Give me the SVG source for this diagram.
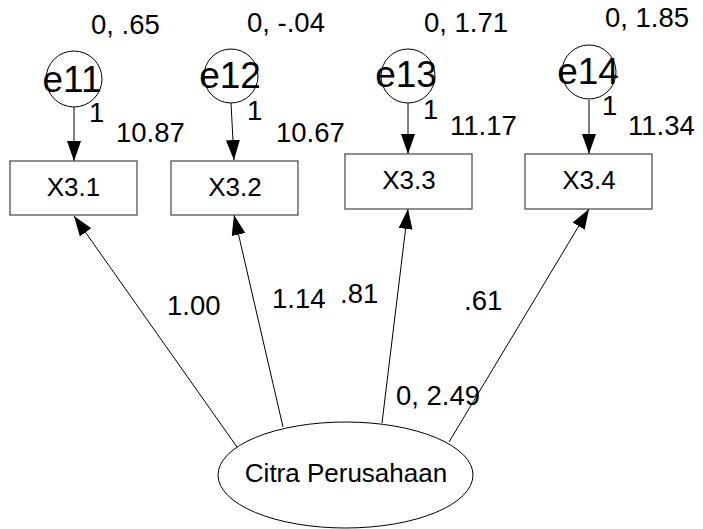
<svg xmlns="http://www.w3.org/2000/svg" width="703" height="529" viewBox="0 0 703 529">
  <style>
    text { font-family: "Liberation Sans", Arial, sans-serif; fill: #000; }
    .num { font-size: 27.5px; }
    .err { font-size: 37px; text-anchor: middle; }
    .obs { font-size: 26px; text-anchor: middle; }
    .lat { font-size: 26px; text-anchor: middle; }
    .box { fill: #fff; stroke: #444; stroke-width: 1.2; }
    .circ { fill: none; stroke: #000; stroke-width: 1; }
    .path { stroke: #000; stroke-width: 1; fill: none; marker-end: url(#arrow); }
  </style>
  <defs>
    <marker id="arrow" markerUnits="userSpaceOnUse" markerWidth="21" markerHeight="15" refX="20" refY="7" orient="auto">
      <path d="M0,0 L20,7 L0,14 z" fill="#000"/>
    </marker>
  </defs>
  <rect width="703" height="529" fill="#fff"/>

  <!-- connectors: error terms into indicators, latent factor into indicators -->
  <g id="connectors">
    <line class="path" x1="74" y1="107" x2="74" y2="161"/>
    <line class="path" x1="231" y1="103" x2="234" y2="160"/>
    <line class="path" x1="408" y1="103" x2="408" y2="154"/>
    <line class="path" x1="589" y1="100" x2="589" y2="154"/>
    <line class="path" x1="237" y1="447" x2="74" y2="216"/>
    <line class="path" x1="283" y1="427" x2="234" y2="215"/>
    <line class="path" x1="382" y1="423" x2="408" y2="209"/>
    <line class="path" x1="449" y1="442" x2="589" y2="209"/>
  </g>

  <!-- path weights, intercepts and variances -->
  <g id="labels">
    <text class="num" x="91" y="34">0, .65</text>
    <text class="num" x="247" y="32">0, -.04</text>
    <text class="num" x="424" y="32">0, 1.71</text>
    <text class="num" x="605" y="27">0, 1.85</text>
    <text class="num" x="89" y="122">1</text>
    <text class="num" x="247" y="120">1</text>
    <text class="num" x="423" y="119">1</text>
    <text class="num" x="602" y="115">1</text>
    <text class="num" x="116" y="142">10.87</text>
    <text class="num" x="276" y="142">10.67</text>
    <text class="num" x="450" y="135">11.17</text>
    <text class="num" x="628" y="135">11.34</text>
    <text class="num" x="167" y="315">1.00</text>
    <text class="num" x="272" y="308">1.14</text>
    <text class="num" x="340" y="303">.81</text>
    <text class="num" x="464" y="310">.61</text>
    <text class="num" x="396" y="405">0, 2.49</text>
  </g>

  <g id="e11">
    <circle class="circ" cx="74" cy="79" r="28"/>
    <text class="err" x="72" y="92">e11</text>
  </g>
  <g id="e12">
    <circle class="circ" cx="231" cy="76" r="27"/>
    <text class="err" x="230" y="88">e12</text>
  </g>
  <g id="e13">
    <circle class="circ" cx="408" cy="76" r="27"/>
    <text class="err" x="406" y="87">e13</text>
  </g>
  <g id="e14">
    <circle class="circ" cx="589" cy="72" r="27"/>
    <text class="err" x="588" y="84">e14</text>
  </g>

  <g id="X3.1">
    <rect class="box" x="10" y="161" width="127" height="54"/>
    <text class="obs" x="73.5" y="196">X3.1</text>
  </g>
  <g id="X3.2">
    <rect class="box" x="171" y="161" width="127" height="54"/>
    <text class="obs" x="235" y="196">X3.2</text>
  </g>
  <g id="X3.3">
    <rect class="box" x="345" y="154" width="127" height="55"/>
    <text class="obs" x="409" y="189">X3.3</text>
  </g>
  <g id="X3.4">
    <rect class="box" x="525" y="154" width="127" height="55"/>
    <text class="obs" x="589" y="189">X3.4</text>
  </g>

  <g id="CitraPerusahaan">
    <ellipse class="circ" cx="345.5" cy="475" rx="127.5" ry="53"/>
    <text class="lat" x="346" y="482">Citra Perusahaan</text>
  </g>
</svg>
